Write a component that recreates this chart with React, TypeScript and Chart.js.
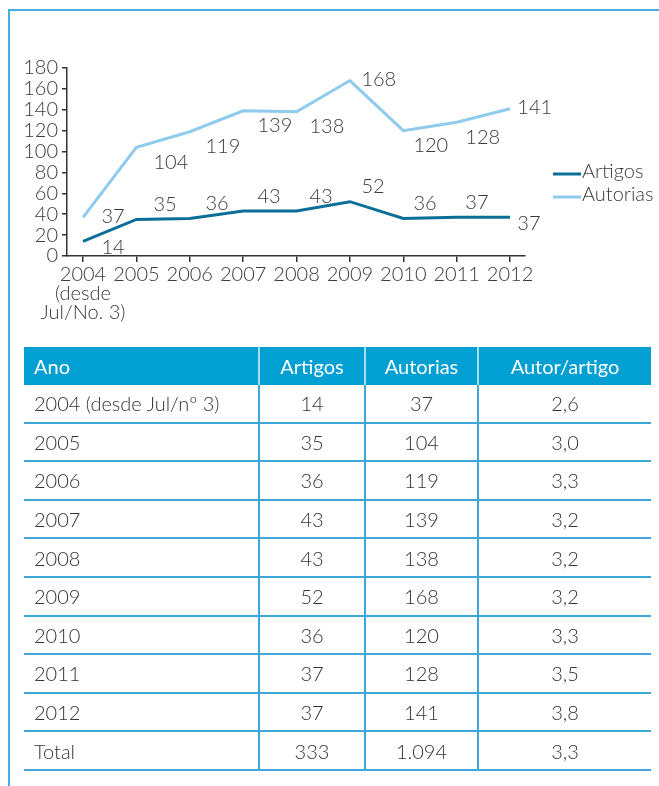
import React, { useEffect, useRef } from 'react';
import { Chart, registerables } from 'chart.js';

Chart.register(...registerables);

// ---- data ----
const years = ['2004', '2005', '2006', '2007', '2008', '2009', '2010', '2011', '2012'];
const xTickLabels: (string | string[])[] = [
  ['2004', '(desde', 'Jul/No. 3)'],
  '2005', '2006', '2007', '2008', '2009', '2010', '2011', '2012',
];
const artigos = [14, 35, 36, 43, 43, 52, 36, 37, 37];
const autorias = [37, 104, 119, 139, 138, 168, 120, 128, 141];
const yTicks = [0, 20, 40, 60, 80, 100, 120, 140, 160, 180];
const seriesNames = ['Artigos', 'Autorias'];

const tableHeaders = ['Ano', 'Artigos', 'Autorias', 'Autor/artigo'];
const tableYearLabels = [
  '2004 (desde Jul/nº 3)', '2005', '2006', '2007', '2008', '2009', '2010', '2011', '2012',
];
const autorPorArtigo = ['2,6', '3,0', '3,3', '3,2', '3,2', '3,2', '3,3', '3,5', '3,8'];
const totalRow = ['Total', '333', '1.094', '3,3'];

// ---- label placement (style config) ----
const artigosLabelPlaces = ['lowRight', 'above', 'above', 'above', 'above', 'above', 'above', 'above', 'lowRight'];
const autoriasLabelPlaces = ['right', 'below', 'below', 'below', 'below', 'right', 'below', 'below', 'right'];
const placeDy: Record<string, number> = { above: -15, below: 15, right: -1, lowRight: 6 };

const FONT = 'Lato, "Open Sans", sans-serif';
const TEXT = '#3a3a3a';
const C_ART = '#0b6f97';
const C_AUT = '#8ecbec';

const valueLabels = {
  id: 'valueLabels',
  afterDatasetsDraw(chart: any) {
    const ctx = chart.ctx;
    ctx.save();
    ctx.font = `300 20px ${FONT}`;
    ctx.fillStyle = TEXT;
    ctx.textAlign = 'left';
    ctx.textBaseline = 'middle';
    chart.data.datasets.forEach((ds: any, di: number) => {
      const meta = chart.getDatasetMeta(di);
      meta.data.forEach((pt: any, i: number) => {
        const dy = placeDy[ds.labelPlaces[i]];
        const dx = 18.5 - i * 1.4;
        ctx.fillText(String(ds.data[i].y), pt.x + dx, pt.y + dy);
      });
    });
    ctx.restore();
  },
};

const sideLegend = {
  id: 'sideLegend',
  afterDraw(chart: any) {
    const { ctx, chartArea } = chart;
    ctx.save();
    ctx.font = `300 20px ${FONT}`;
    ctx.fillStyle = TEXT;
    ctx.textAlign = 'left';
    ctx.textBaseline = 'middle';
    chart.data.datasets.forEach((ds: any, i: number) => {
      const y = chartArea.top + 106 + i * 23;
      ctx.strokeStyle = ds.borderColor;
      ctx.lineWidth = 3;
      ctx.beginPath();
      ctx.moveTo(chartArea.right + 28, y);
      ctx.lineTo(chartArea.right + 56, y);
      ctx.stroke();
      ctx.fillText(ds.label, chartArea.right + 57, y - 2);
    });
    ctx.restore();
  },
};

function LineChart() {
  const ref = useRef<HTMLCanvasElement | null>(null);
  useEffect(() => {
    if (!ref.current) return;
    const tickFont = { family: FONT, size: 20, weight: '300' as any, lineHeight: 0.95 };
    const chart = new Chart(ref.current, {
      type: 'line',
      data: {
        datasets: [
          {
            label: seriesNames[0],
            data: artigos.map((v, i) => ({ x: i, y: v })),
            borderColor: C_ART,
            backgroundColor: C_ART,
            borderWidth: 3,
            pointRadius: 0,
            tension: 0,
            labelPlaces: artigosLabelPlaces,
          } as any,
          {
            label: seriesNames[1],
            data: autorias.map((v, i) => ({ x: i, y: v })),
            borderColor: C_AUT,
            backgroundColor: C_AUT,
            borderWidth: 3,
            pointRadius: 0,
            tension: 0,
            labelPlaces: autoriasLabelPlaces,
          } as any,
        ],
      },
      options: {
        responsive: false,
        animation: false,
        layout: { padding: { left: 0, top: 60, right: 134, bottom: 2 } },
        plugins: { legend: { display: false }, tooltip: { enabled: false } },
        scales: {
          x: {
            type: 'linear',
            min: -0.3,
            max: 8.28,
            afterBuildTicks: (s: any) => {
              s.ticks = years.map((_, i) => ({ value: i }));
            },
            afterFit: (s: any) => {
              s.height = 80;
            },
            ticks: {
              autoSkip: false,
              maxRotation: 0,
              minRotation: 0,
              padding: 3,
              color: TEXT,
              font: tickFont,
              callback: (v: any) => xTickLabels[Number(v)],
            },
            grid: { drawOnChartArea: false, drawTicks: true, tickLength: 6, color: '#333', lineWidth: 1.5 },
            border: { display: true, color: '#333', width: 1.5 },
          },
          y: {
            min: 0,
            max: 180,
            afterBuildTicks: (s: any) => {
              s.ticks = yTicks.map((v) => ({ value: v }));
            },
            afterFit: (s: any) => {
              s.width = 59;
            },
            ticks: { autoSkip: false, padding: 4, color: TEXT, font: tickFont },
            grid: { drawOnChartArea: false, drawTicks: true, tickLength: 5, color: '#333', lineWidth: 1.5 },
            border: { display: true, color: '#333', width: 1.5 },
          },
        },
      } as any,
      plugins: [valueLabels, sideLegend],
    });
    return () => chart.destroy();
  }, []);
  return (
    <canvas
      ref={ref}
      width={651}
      height={330}
      style={{ position: 'absolute', left: 8, top: 8, width: 651, height: 330 }}
    />
  );
}

const LINE = '#3ea7da';
const HEAD_BG = '#029fd3';
const HEAD_SEP = '#a6dbf0';
const colWidths = [234, 106, 113, 174];

function DataTable() {
  const rows = tableYearLabels.map((y, i) => [y, String(artigos[i]), String(autorias[i]), autorPorArtigo[i]]);
  rows.push(totalRow);
  const cellBase: React.CSSProperties = {
    boxSizing: 'border-box',
    padding: '0 10px',
    whiteSpace: 'nowrap',
    verticalAlign: 'middle',
  };
  return (
    <table
      style={{
        position: 'absolute',
        left: 24,
        top: 347,
        width: 627,
        borderCollapse: 'separate',
        borderSpacing: 0,
        tableLayout: 'fixed',
        fontFamily: FONT,
        fontSize: 20,
        color: '#333',
      }}
    >
      <colgroup>
        {colWidths.map((w, i) => (
          <col key={i} style={{ width: w }} />
        ))}
      </colgroup>
      <thead>
        <tr>
          {tableHeaders.map((h, i) => (
            <th
              key={h}
              style={{
                ...cellBase,
                height: 38,
                background: HEAD_BG,
                color: '#fff',
                fontWeight: 400,
                textAlign: i === 0 ? 'left' : 'center',
                borderLeft: i === 0 ? 'none' : `2px solid ${HEAD_SEP}`,
              }}
            >
              {h}
            </th>
          ))}
        </tr>
      </thead>
      <tbody>
        {rows.map((r, ri) => (
          <tr key={ri}>
            {r.map((c, ci) => (
              <td
                key={ci}
                style={{
                  ...cellBase,
                  height: 38.6,
                  fontWeight: 300,
                  textAlign: ci === 0 ? 'left' : 'center',
                  borderBottom: `2px solid ${LINE}`,
                  borderLeft: ci === 0 ? 'none' : `2px solid ${LINE}`,
                }}
              >
                {c}
              </td>
            ))}
          </tr>
        ))}
      </tbody>
    </table>
  );
}

export default function App() {
  return (
    <div>
      <div
        style={{
          position: 'fixed',
          left: 8,
          top: 9,
          right: 0,
          bottom: 0,
          borderTop: '2px solid #45afe0',
          borderLeft: '2px solid #45afe0',
        }}
      />
      <LineChart />
      <DataTable />
    </div>
  );
}
